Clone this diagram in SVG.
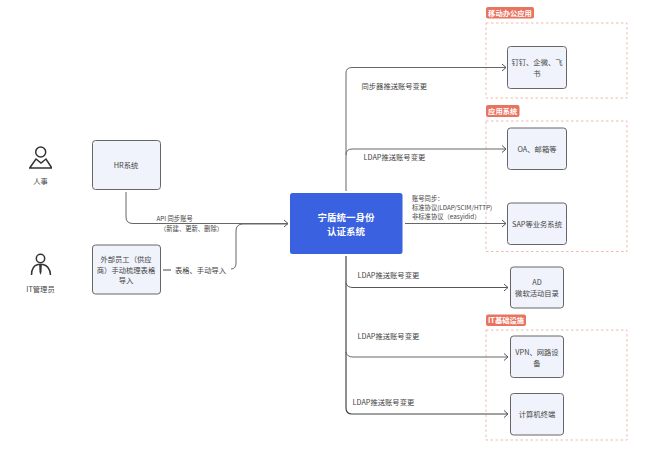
<svg xmlns="http://www.w3.org/2000/svg" width="660" height="457" viewBox="0 0 660 457">
<defs>
<marker id="arr" markerUnits="userSpaceOnUse" markerWidth="8" markerHeight="10" refX="6" refY="5" orient="auto"><path d="M2 1.500L6 5L2 8.500" fill="none" stroke="#555" stroke-width="1"/></marker>
</defs>
<style>
text{font-family:"Noto Sans CJK SC","Noto Sans",sans-serif;font-size:7.300px;fill:#444;text-anchor:middle}
.n{fill:#f0f3fb;stroke:#666;stroke-width:1}
.c{fill:none;stroke:#666;stroke-width:1;marker-end:url(#arr)}
.k{fill:none;stroke:#444;stroke-width:1.200}
.d{fill:none;stroke:#eebbae;stroke-width:1;stroke-dasharray:2.500 2.500}
.t{fill:#e8735f}
.tt{fill:#fff;font-weight:700}
.s{font-size:6.300px}
.l{text-anchor:start}
.i{fill:none;stroke:#333;stroke-width:1.500}
</style>
<rect width="660" height="457" fill="#fff"/>
<g id="groups">
<rect class="d" x="486" y="23" width="141" height="75"/>
<rect class="d" x="486" y="121" width="141" height="130.500"/>
<rect class="d" x="486" y="330" width="141" height="110"/>
</g>
<g id="tag-mobile"><rect class="t" x="486" y="7" width="48" height="11.500" rx="2"/><text class="tt" x="510" y="15.500">移动办公应用</text></g>
<g id="tag-app"><rect class="t" x="486" y="105" width="33.500" height="12" rx="2"/><text class="tt" x="502.700" y="113.800">应用系统</text></g>
<g id="tag-it"><rect class="t" x="486" y="314.500" width="40" height="11.500" rx="2"/><text class="tt" x="506" y="323">IT基础设施</text></g>
<g id="connectors">
<path class="c" d="M126 192V217Q126 223.500 133 223.500H288"/>
<path class="k" d="M163 270H171" style="stroke:#666"/>
<path class="c" d="M231 269Q236 269 236 263V231Q236 224 243 224H288" style="marker-end:none"/>
<path class="c" d="M346 191V73Q346 67.500 352 67.500H506"/>
<path class="c" d="M346 155Q346 149 352 149H506"/>
<path class="c" d="M405 223.500H506"/>
<path class="k" d="M346 256V408Q346 414 352 414H508" marker-end="url(#arr)"/>
<path class="c" d="M346 283Q347 287.500 353 287.500H508" style="stroke:#555"/>
<path class="c" d="M346 352Q347 357 353 357H508"/>
</g>
<g id="person-hr">
<circle class="i" cx="40.700" cy="152" r="5"/>
<path class="i" d="M30 167.500L36 159L41 163L46 159L51.500 167.500M29 168H52"/>
<text x="40.500" y="184">人事</text>
</g>
<g id="person-it">
<circle class="i" cx="40.500" cy="258.500" r="4.200"/>
<path class="i" d="M31.500 275Q31.500 266 38 264.500H43Q50 266 50.500 275"/>
<path d="M39.200 265H41.800L41.500 272L40.500 275L39.500 272Z" fill="#333"/>
<text x="40.500" y="291.500">IT管理员</text>
</g>
<g id="hr"><rect class="n" x="92.500" y="140.500" width="68" height="49" rx="3"/><text x="126" y="168">HR系统</text></g>
<g id="external"><rect class="n" x="92.500" y="245" width="68" height="49" rx="3"/><text x="126" y="262">外部员工（供应</text><text x="126" y="272.500">商）手动梳理表格</text><text x="126" y="283">导入</text></g>
<g id="core"><rect x="290" y="193" width="112.500" height="61" rx="2.500" fill="#3961e0"/><text x="346" y="221" style="font-size:9.500px;fill:#fff;font-weight:700">宁盾统一身份</text><text x="346" y="235" style="font-size:9.500px;fill:#fff;font-weight:700">认证系统</text></g>
<g id="dingtalk"><rect class="n" x="507.500" y="46.500" width="59" height="42" rx="3"/><text x="537" y="65">钉钉、企微、飞</text><text x="537" y="75.500">书</text></g>
<g id="oa"><rect class="n" x="507.500" y="128" width="59" height="41.500" rx="3"/><text x="537" y="152">OA、邮箱等</text></g>
<g id="sap"><rect class="n" x="507.500" y="203" width="59" height="41.500" rx="3"/><text x="537" y="227">SAP等业务系统</text></g>
<g id="ad"><rect class="n" x="510.500" y="267" width="53" height="41" rx="3"/><text x="537" y="285">AD</text><text x="537" y="296">微软活动目录</text></g>
<g id="vpn"><rect class="n" x="510.500" y="336" width="53" height="41.500" rx="3"/><text x="537" y="355">VPN、网路设</text><text x="537" y="365.500">备</text></g>
<g id="pc"><rect class="n" x="510.500" y="393.500" width="53" height="41.500" rx="3"/><text x="537" y="417">计算机终端</text></g>
<g id="labels">
<text class="s l" x="156.500" y="221">API 同步账号</text>
<text class="s l" x="160" y="230.500">（新建、更新、删除）</text>
<text x="200.500" y="272.500">表格、手动导入</text>
<text class="l" x="361.500" y="88.500">同步器推送账号变更</text>
<text class="l" x="363.500" y="160">LDAP推送账号变更</text>
<text class="s l" x="412" y="200.500">账号同步：</text>
<text class="s l" x="412" y="209.500">标准协议(LDAP/SCIM/HTTP)</text>
<text class="s l" x="412" y="218.500">非标准协议（easyidid）</text>
<text class="l" x="357.500" y="278">LDAP推送账号变更</text>
<text class="l" x="357.500" y="338.500">LDAP推送账号变更</text>
<text class="l" x="352.500" y="405">LDAP推送账号变更</text>
</g>
</svg>
